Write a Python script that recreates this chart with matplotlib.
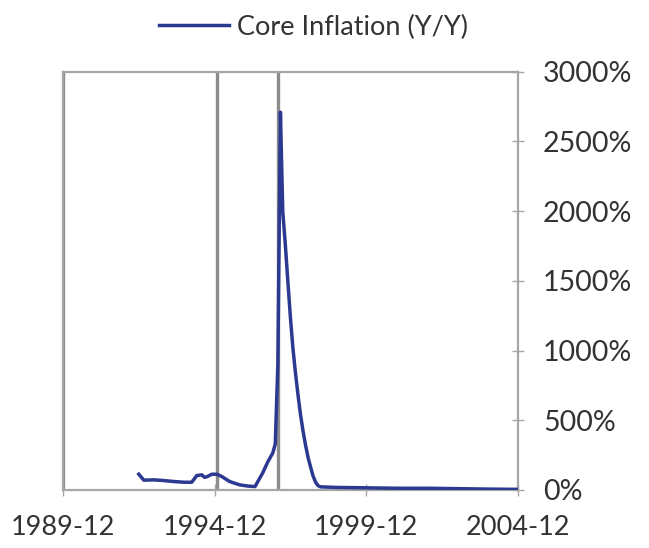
import pandas as pd
import matplotlib
matplotlib.use("Agg")
import matplotlib.pyplot as plt
import matplotlib.dates as mdates
from matplotlib.ticker import FuncFormatter

plt.rcParams['font.family'] = ['Lato', 'DejaVu Sans']

# core inflation, year over year (%)
dates = ["1992-06", "1992-08", "1992-12", "1993-04", "1993-08", "1993-12",
         "1994-03", "1994-05", "1994-07", "1994-08", "1994-09", "1994-11",
         "1995-01", "1995-03", "1995-06", "1995-10", "1996-01", "1996-04",
         "1996-07", "1996-09", "1996-11", "1996-12", "1997-01", "1997-02",
         "1997-03", "1997-04", "1997-05", "1997-06", "1997-07", "1997-08",
         "1997-09", "1997-10", "1997-11", "1997-12", "1998-01", "1998-02",
         "1998-03", "1998-04", "1998-05", "1998-06", "1998-12", "1999-12",
         "2000-12", "2001-12", "2002-12", "2003-12", "2004-12"]
core = [113, 70, 72, 67, 60, 55,
        55, 103, 108, 90, 95, 113,
        112, 95, 60, 36, 28, 24,
        120, 200, 265, 330, 900, 2710,
        2000, 1760, 1500, 1240, 1020, 840,
        680, 540, 420, 320, 230, 160,
        100, 55, 30, 22, 18, 15,
        12, 12, 9, 6, 4]

event_dates = ["1989-12", "1995-01", "1997-01"]
x_ticks = ["1989-12", "1994-12", "1999-12", "2004-12"]
y_ticks = [0, 500, 1000, 1500, 2000, 2500, 3000]

x = pd.to_datetime(dates)

fig = plt.figure(figsize=(6.49, 5.48), dpi=100)
ax = fig.add_axes([0.097, 0.106, 0.701, 0.763])

spine_c = "#a6a6a6"
for ev in pd.to_datetime(event_dates):
    ax.axvline(ev, color="#8c8c8c", lw=2.4, zorder=1)

line, = ax.plot(x, core, color="#2b3990", lw=2.5, zorder=3, label="Core Inflation (Y/Y)")

ax.set_xlim(pd.Timestamp("1989-12-01"), pd.Timestamp("2004-12-01"))
ax.set_ylim(0, 3000)
ax.set_xticks(pd.to_datetime(x_ticks))
ax.xaxis.set_major_formatter(mdates.DateFormatter("%Y-%m"))
ax.set_yticks(y_ticks)
ax.yaxis.set_major_formatter(FuncFormatter(lambda v, p: f"{v:.0f}%"))
ax.yaxis.tick_right()

for s in ax.spines.values():
    s.set_color(spine_c)
    s.set_linewidth(1.6)

ax.tick_params(axis="both", direction="inout", length=8, width=1, color=spine_c,
               labelcolor="#333333")
ax.tick_params(axis="x", pad=14, labelsize=19.5)
ax.tick_params(axis="y", pad=14, labelsize=20.5)

fig.legend(handles=[line], loc="center", bbox_to_anchor=(0.483, 0.95), frameon=False,
           fontsize=19.5, handlelength=2.6, handletextpad=0.3, labelcolor="#333333")

fig.savefig("out.png", dpi=100)
